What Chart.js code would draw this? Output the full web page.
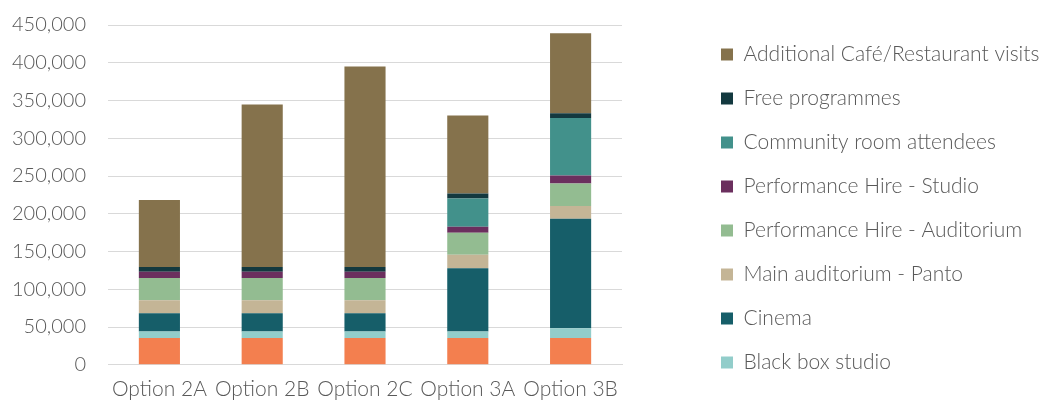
<!DOCTYPE html>
<html>
<head>
<meta charset="utf-8">
<script src="https://cdn.jsdelivr.net/npm/chart.js@4/dist/chart.umd.min.js"></script>
<style>
  html, body { margin: 0; padding: 0; background: #fff; }
  #wrap { width: 1045px; height: 404px; position: relative; }
</style>
</head>
<body>
<div id="wrap"><canvas id="chart"></canvas></div>
<script>
// ─── data ───
const options = ['Option 2A', 'Option 2B', 'Option 2C', 'Option 3A', 'Option 3B'];

const mainCore    = [35500, 35500, 35500, 35500, 35500];
const blackBox    = [8500, 8500, 8500, 8500, 13000];
const cinema      = [24400, 24400, 24400, 84000, 145000];
const panto       = [17200, 17200, 17200, 17700, 16900];
const hireAud     = [29300, 29300, 29300, 29300, 29600];
const hireStudio  = [8400, 8400, 8400, 7900, 10700];
const community   = [0, 0, 0, 37300, 76200];
const freeProg    = [6300, 6300, 6300, 6600, 6200];
const cafe        = [88600, 215000, 265500, 103400, 106000];

const yTicksMax = 450000;
const yStep = 50000;

const textGrey = '#595959';
const font = { family: 'Lato', size: 21, weight: 300 };

// pushes the legend away from the plot area like the original
const legendSpace = {
  id: 'legendSpace',
  beforeInit(chart) {
    const fit = chart.legend.fit;
    chart.legend.fit = function () {
      fit.call(this);
      this.width = 423;
    };
  },
  afterLayout(chart) {
    const lg = chart.legend;
    lg.left = chart.chartArea.right + 76;
    lg.top = 21;
  }
};

function ds(label, data, color) {
  return { label, data, backgroundColor: color, borderWidth: 0 };
}

new Chart(document.getElementById('chart'), {
  type: 'bar',
  data: {
    labels: options,
    datasets: [
      ds('Main auditorium', mainCore, '#F37F4F'),
      ds('Black box studio', blackBox, '#92CDCA'),
      ds('Cinema', cinema, '#165E69'),
      ds('Main auditorium - Panto', panto, '#C4B596'),
      ds('Performance Hire - Auditorium', hireAud, '#93BC91'),
      ds('Performance Hire - Studio', hireStudio, '#6B2F5E'),
      ds('Community room attendees', community, '#42918B'),
      ds('Free programmes', freeProg, '#13393F'),
      ds('Additional Café/Restaurant visits', cafe, '#85724C'),
    ]
  },
  options: {
    responsive: true,
    maintainAspectRatio: false,
    animation: false,
    datasets: { bar: { barPercentage: 0.4, categoryPercentage: 1 } },
    layout: { padding: { top: 25, bottom: -10, left: 0, right: 0 } },
    plugins: {
      legend: {
        position: 'right',
        align: 'start',
        reverse: true,
        labels: {
          color: textGrey,
          font: font,
          boxWidth: 12,
          boxHeight: 12,
          padding: 23,
          filter: item => item.text !== 'Main auditorium'
        }
      },
      tooltip: { enabled: false }
    },
    scales: {
      x: {
        stacked: true,
        ticks: { color: textGrey, font: font, padding: 12, maxRotation: 0 },
        grid: { display: false, drawTicks: false },
        border: { color: '#D9D9D9', width: 1 }
      },
      y: {
        stacked: true,
        min: 0,
        max: yTicksMax,
        afterFit(scale) { scale.width = 108; },
        ticks: {
          stepSize: yStep,
          color: textGrey,
          // small lineHeight so the label overhang does not push the plot down
          font: { family: 'Lato', size: 20, weight: 300, lineHeight: 0.3 },
          padding: 22,
          callback: v => v.toLocaleString('en-US')
        },
        grid: { color: '#D9D9D9', lineWidth: 1, drawTicks: false },
        border: { display: false }
      }
    }
  },
  plugins: [legendSpace]
});
</script>
</body>
</html>
